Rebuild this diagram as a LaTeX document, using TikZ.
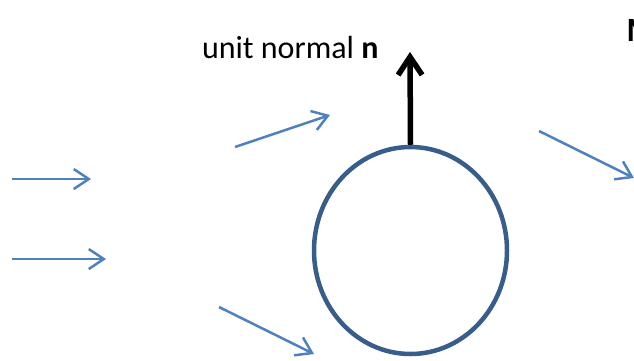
\documentclass[tikz,border=0pt]{standalone}
\usepackage{fontspec}
\setmainfont{Carlito}
\usetikzlibrary{shapes.geometric,arrows.meta}
\definecolor{flowblue}{HTML}{4F81BD}
\definecolor{rimblue}{HTML}{385D8A}
\begin{document}
\begin{tikzpicture}[x=1pt,y=-1pt,flow/.style={draw=flowblue,line width=2.5pt,-{Straight Barb[length=15pt,width=20pt,line width=2.5pt]}},body node/.style={ellipse,draw=rimblue,line width=4.5pt,minimum width=193pt,minimum height=207pt,inner sep=0pt}]
\useasboundingbox (0,0) rectangle (634,360);
\begin{scope}[every node/.style={font=\fontsize{32}{38}\selectfont}]
\node[body node] (body) at (410.5,250.5) {};
\coordinate (ntip) at (410,52);
\node[anchor=base east] (lbl) at (382,58) {unit normal \textbf{n}};
\node[anchor=base west,font=\fontsize{34}{40}\selectfont\bfseries] (ttl) at (623,41) {M};
%\node (x) at (,) {};
\end{scope}
\begin{scope}
\coordinate (a1) at (12,179); \coordinate (b1) at (91,179);
\coordinate (a2) at (12,259); \coordinate (b2) at (106,259);
\coordinate (a3) at (235,147); \coordinate (b3) at (330,115);
\coordinate (a4) at (219,307); \coordinate (b4) at (314,354);
\coordinate (a5) at (539,131); \coordinate (b5) at (634,178);
\draw[flow] (a1) -- (b1);
\draw[flow] (a2) -- (b2);
\draw[flow] (a3) -- (b3);
\draw[flow] (a4) -- (b4);
\draw[flow] (a5) -- (b5);
\draw[line width=5.5pt,-{Straight Barb[length=18pt,width=24pt,line width=5.5pt]}] (body.north) -- (ntip);
\end{scope}
\end{tikzpicture}
\end{document}
